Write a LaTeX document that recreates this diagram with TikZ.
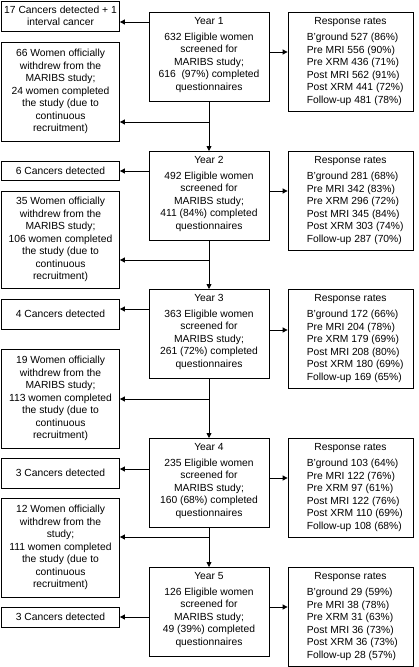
\documentclass[tikz,border=0pt]{standalone}
\usepackage{fontspec}
\setmainfont{Liberation Sans}
\usetikzlibrary{arrows.meta}
\begin{document}
\begin{tikzpicture}[x=1pt,y=-1pt,
  every node/.style={font=\fontsize{10.3}{12.5}\selectfont, inner sep=0pt},
  box/.style={draw, line width=0.8pt},
  leftbox/.style={box, minimum width=118pt, align=center},
  yearbox/.style={box, minimum width=120pt, minimum height=89pt, anchor=north},
  respbox/.style={box, minimum width=125pt, minimum height=98.5pt, anchor=north},
  arr/.style={line width=0.8pt, -{Triangle[length=5pt,width=5pt]}},
  ]
\useasboundingbox (0,0) rectangle (418,667);

% ---------- Year boxes ----------
\node[yearbox] (y1) at (209,12) {};
\node[yearbox] (y2) at (209,151) {};
\node[yearbox] (y3) at (209,289) {};
\node[yearbox] (y4) at (209,438) {};
\node[yearbox] (y5) at (209,567) {};
\node[anchor=north, align=center] (y1t) at ([yshift=-5pt]y1.north) {Year 1\\[3.5pt]632 Eligible women\\screened for\\MARIBS study;\\616\ \ (97\%) completed\\questionnaires};
\node[anchor=north, align=center] (y2t) at ([yshift=-5pt]y2.north) {Year 2\\[3.5pt]492 Eligible women\\screened for\\MARIBS study;\\411 (84\%) completed\\questionnaires};
\node[anchor=north, align=center] (y3t) at ([yshift=-5pt]y3.north) {Year 3\\[3.5pt]363 Eligible women\\screened for\\MARIBS study;\\261 (72\%) completed\\questionnaires};
\node[anchor=north, align=center] (y4t) at ([yshift=-5pt]y4.north) {Year 4\\[3.5pt]235 Eligible women\\screened for\\MARIBS study;\\160 (68\%) completed\\questionnaires};
\node[anchor=north, align=center] (y5t) at ([yshift=-5pt]y5.north) {Year 5\\[3.5pt]126 Eligible women\\screened for\\MARIBS study;\\49 (39\%) completed\\questionnaires};

% ---------- Response boxes ----------
\node[respbox] (r1) at (350.5,12) {};
\node[respbox] (r2) at (350.5,151) {};
\node[respbox] (r3) at (350.5,289) {};
\node[respbox] (r4) at (350.5,438) {};
\node[respbox] (r5) at (350.5,567) {};
\foreach \r in {r1,r2,r3,r4,r5}{
  \node[anchor=north] (\r h) at ([yshift=-5pt]\r.north) {Response rates};
}
\node[anchor=north west, align=left] (r1b) at ([xshift=19pt,yshift=-21pt]r1.north west) {B’ground 527 (86\%)\\Pre MRI 556 (90\%)\\Pre XRM 436 (71\%)\\Post MRI 562 (91\%)\\Post XRM 441 (72\%)\\Follow-up 481 (78\%)};
\node[anchor=north west, align=left] (r2b) at ([xshift=19pt,yshift=-21pt]r2.north west) {B’ground 281 (68\%)\\Pre MRI 342 (83\%)\\Pre XRM 296 (72\%)\\Post MRI 345 (84\%)\\Post XRM 303 (74\%)\\Follow-up 287 (70\%)};
\node[anchor=north west, align=left] (r3b) at ([xshift=19pt,yshift=-21pt]r3.north west) {B’ground 172 (66\%)\\Pre MRI 204 (78\%)\\Pre XRM 179 (69\%)\\Post MRI 208 (80\%)\\Post XRM 180 (69\%)\\Follow-up 169 (65\%)};
\node[anchor=north west, align=left] (r4b) at ([xshift=19pt,yshift=-21pt]r4.north west) {B’ground 103 (64\%)\\Pre MRI 122 (76\%)\\Pre XRM 97 (61\%)\\Post MRI 122 (76\%)\\Post XRM 110 (69\%)\\Follow-up 108 (68\%)};
\node[anchor=north west, align=left] (r5b) at ([xshift=19pt,yshift=-21pt]r5.north west) {B’ground 29 (59\%)\\Pre MRI 38 (78\%)\\Pre XRM 31 (63\%)\\Post MRI 36 (73\%)\\Post XRM 36 (73\%)\\Follow-up 28 (57\%)};

% ---------- Cancer boxes ----------
\node[leftbox, minimum height=30pt] (c1) at (60.5,16) {17 Cancers detected + 1\\interval cancer};
\node[leftbox, minimum height=19pt] (c2) at (60.5,170.5) {6 Cancers detected};
\node[leftbox, minimum height=30pt] (c3) at (60.5,314) {4 Cancers detected};
\node[leftbox, minimum height=30pt] (c4) at (60.5,473) {3 Cancers detected};
\node[leftbox, minimum height=20pt] (c5) at (60.5,617) {3 Cancers detected};

% ---------- Withdrawal boxes ----------
\node[leftbox, minimum height=99pt] (w1) at (60.5,91.5) {66 Women officially\\withdrew from the\\MARIBS study;\\24 women completed\\the study (due to\\continuous\\recruitment)};
\node[leftbox, minimum height=97pt] (w2) at (60.5,239.5) {35 Women officially\\withdrew from the\\MARIBS study;\\106 women completed\\the study (due to\\continuous\\recruitment)};
\node[leftbox, minimum height=99pt] (w3) at (60.5,398.5) {19 Women officially\\withdrew from the\\MARIBS study;\\113 women completed\\the study (due to\\continuous\\recruitment)};
\node[leftbox, minimum height=99pt] (w4) at (60.5,547.5) {12 Women officially\\withdrew from the\\study;\\111 women completed\\the study (due to\\continuous\\recruitment)};

% ---------- connector levels ----------
\coordinate (ac1) at (0,22);  \coordinate (ar1) at (0,52);  \coordinate (bw1) at (0,122);
\coordinate (ac2) at (0,171); \coordinate (ar2) at (0,191); \coordinate (bw2) at (0,260);
\coordinate (ac3) at (0,309); \coordinate (ar3) at (0,330); \coordinate (bw3) at (0,399);
\coordinate (ac4) at (0,469); \coordinate (ar4) at (0,478); \coordinate (bw4) at (0,537);
\coordinate (ac5) at (0,617); \coordinate (ar5) at (0,607);

% ---------- connectors ----------
\foreach \i in {1,...,5}{
  \draw[arr] (y\i.west |- ac\i) -- (c\i.east |- ac\i);
  \draw[arr] (y\i.east |- ar\i) -- (r\i.west |- ar\i);
}
\foreach \i/\j in {1/2,2/3,3/4,4/5}{
  \draw[arr] (y\i.south) -- (y\j.north);
  \draw[arr] (y\i.south |- bw\i) -- (w\i.east |- bw\i);
}
\end{tikzpicture}
\end{document}
